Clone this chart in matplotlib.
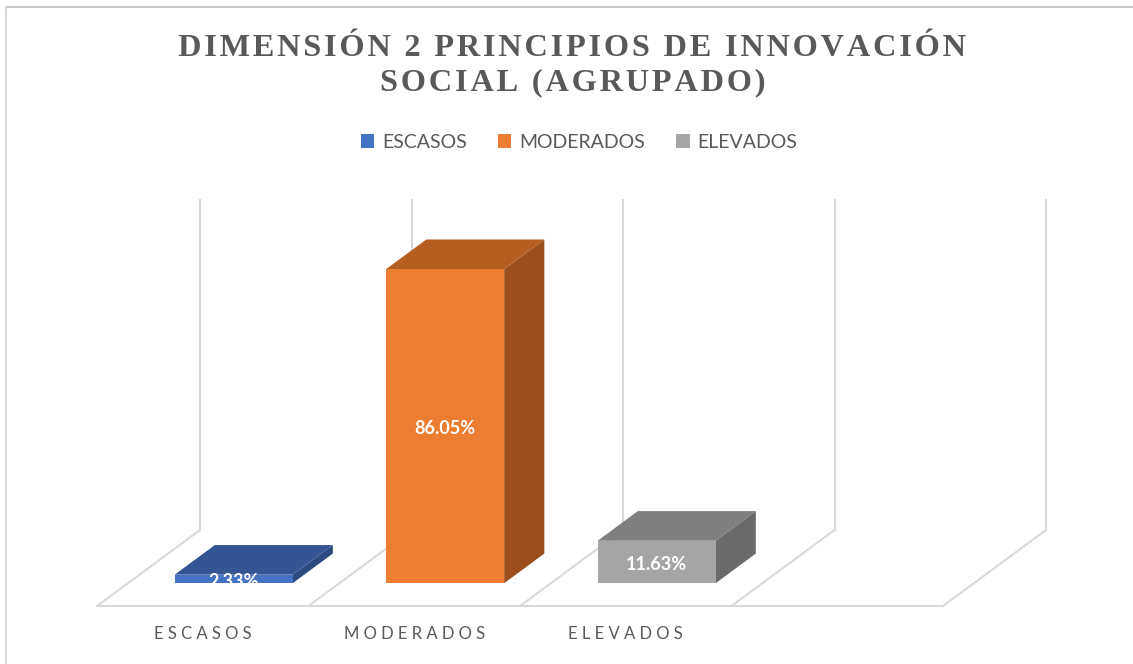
import matplotlib
matplotlib.use("Agg")
import matplotlib.pyplot as plt
from matplotlib.patches import Polygon, Patch
from matplotlib.lines import Line2D

# data
categories = ["ESCASOS", "MODERADOS", "ELEVADOS"]
values = [2.33, 86.05, 11.63]
value_labels = ["2.33%", "86.05%", "11.63%"]
title_lines = ["DIMENSIÓN 2 PRINCIPIOS DE INNOVACIÓN", "SOCIAL (AGRUPADO)"]

# face colours: front, top, side
front_colors = ["#4472C4", "#ED7D31", "#A5A5A5"]
top_colors = ["#335594", "#B55E22", "#7F7F7F"]
side_colors = ["#2B4A80", "#9A4F1C", "#6A6A6A"]

W, H = 1133, 664
PX_SLOT, PX_PCT = 211.5, 3.65
X0_PX, Y0_PX = 97, 606
N_SLOTS = 4           # floor has one empty slot at the right
WALL_TOP = 90.4
DX, DY = 103 / PX_SLOT, 76 / PX_PCT   # full floor depth
D0, D1 = 0.30, 0.69                   # bar depth range
BAR_W = 0.558
GRID = "#D9D9D9"
TXT = "#595959"


def spaced(s, sep="\u2009"):
    return sep.join(s)


fig = plt.figure(figsize=(W / 100, H / 100), dpi=100)
ax = fig.add_axes([0, 0, 1, 1])
ax.set_xlim(-X0_PX / PX_SLOT, (W - X0_PX) / PX_SLOT)
ax.set_ylim((Y0_PX - H) / PX_PCT, Y0_PX / PX_PCT)
ax.axis("off")

# floor and back wall lines
ax.plot([0, N_SLOTS], [0, 0], color=GRID, lw=1.5, zorder=1)
for k in range(N_SLOTS + 1):
    ax.plot([k, k + DX], [0, DY], color=GRID, lw=1.5, zorder=1)
    ax.plot([k + DX, k + DX], [DY, DY + WALL_TOP], color=GRID, lw=1.5, zorder=1)

# bars
for i, v in enumerate(values):
    xl = i + 0.5 - BAR_W / 2
    xr = xl + BAR_W
    ox0, oy0 = D0 * DX, D0 * DY
    ox1, oy1 = D1 * DX, D1 * DY
    front = [(xl + ox0, oy0), (xr + ox0, oy0), (xr + ox0, oy0 + v), (xl + ox0, oy0 + v)]
    top = [(xl + ox0, oy0 + v), (xr + ox0, oy0 + v), (xr + ox1, oy1 + v), (xl + ox1, oy1 + v)]
    side = [(xr + ox0, oy0), (xr + ox1, oy1), (xr + ox1, oy1 + v), (xr + ox0, oy0 + v)]
    ax.add_patch(Polygon(side, closed=True, fc=side_colors[i], ec="none", zorder=3))
    ax.add_patch(Polygon(top, closed=True, fc=top_colors[i], ec="none", zorder=3))
    ax.add_patch(Polygon(front, closed=True, fc=front_colors[i], ec="none", zorder=4))
    ax.text(i + 0.5 + ox0, oy0 + v / 2 - 0.6, value_labels[i], ha="center", va="center",
            color="white", fontsize=13, fontweight="bold", family="Lato", zorder=5)
    ax.text(i + 0.5, -28 / PX_PCT, spaced(categories[i], " "), ha="center", va="center",
            color=TXT, fontsize=12, family="Lato")

# title
title_font = dict(fontsize=23.3, fontweight="bold", color=TXT,
                  family=["Liberation Serif", "DejaVu Serif"])
fig.text(572 / W, 1 - 48 / H, spaced(title_lines[0], "\u200a"), ha="center", va="center",
         **title_font)
fig.text(573 / W, 1 - 83 / H, spaced(title_lines[1], "\u200a"), ha="center", va="center",
         **title_font)

# legend
handles = [Patch(fc=c, ec="none") for c in front_colors]
fig.legend(handles, categories, loc="center", bbox_to_anchor=(579 / W, 1 - 142 / H),
           ncol=3, frameon=False, handlelength=0.7, handleheight=0.7,
           handletextpad=0.4, columnspacing=1.6,
           prop={"family": "Lato", "size": 14}, labelcolor=TXT)

# chart border (top and left edges visible)
fig.add_artist(Line2D([6 / W, 1], [1 - 7 / H, 1 - 7 / H], transform=fig.transFigure,
                      color="#C8C8C8", lw=1.5))
fig.add_artist(Line2D([6 / W, 6 / W], [0, 1 - 7 / H], transform=fig.transFigure,
                      color="#DADADA", lw=1.5))

fig.savefig("out.png", dpi=100)
